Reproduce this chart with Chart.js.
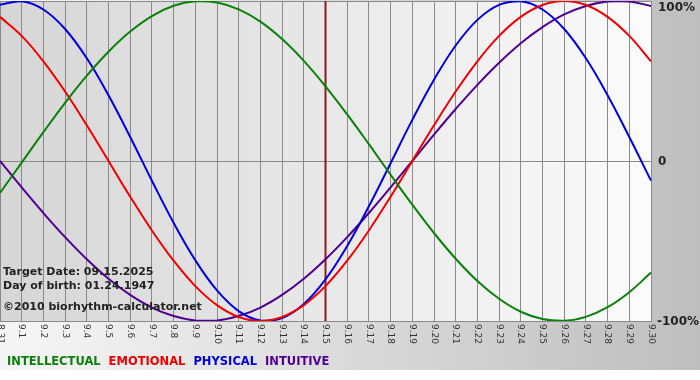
<!DOCTYPE html>
<html>
<head>
<meta charset="utf-8">
<script src="https://cdn.jsdelivr.net/npm/chart.js@4"></script>
<style>
  body { margin: 0; background: #fff; }
  #wrap { width: 700px; height: 380px; }
</style>
</head>
<body>
<div id="wrap"><canvas id="bioChart" width="700" height="380"></canvas></div>
<script>
// days shown on the x axis
var days = ['8.31','9.1','9.2','9.3','9.4','9.5','9.6','9.7','9.8','9.9','9.10',
  '9.11','9.12','9.13','9.14','9.15','9.16','9.17','9.18','9.19','9.20',
  '9.21','9.22','9.23','9.24','9.25','9.26','9.27','9.28','9.29','9.30'];

// values in percent
var intellectual = [-19.9,-1.0,18.0,36.3,53.3,68.3,80.9,90.6,97.0,99.8,99.1,94.8,87.1,76.2,62.6,46.7,
  29.1,10.5,-8.6,-27.3,-45.0,-61.1,-75.0,-86.1,-94.2,-98.8,-99.9,-97.4,-91.4,-82.0,-69.7];
var emotional = [90.1,78.2,62.3,43.4,22.3,0,-22.3,-43.4,-62.3,-78.2,-90.1,-97.5,-100,-97.5,-90.1,-78.2,
  -62.3,-43.4,-22.3,0,22.3,43.4,62.3,78.2,90.1,97.5,100,97.5,90.1,78.2,62.3];
var physical = [97.6,99.9,94.7,82.5,64.2,41.1,15.0,-12.3,-38.6,-62.0,-80.9,-93.8,-99.7,-98.2,-89.4,-74.0,
  -53.1,-28.3,-1.4,25.7,50.8,72.2,88.2,97.6,99.9,94.7,82.5,64.2,41.1,15.0,-12.3];
var intuitive = [0,-16.5,-32.5,-47.6,-61.4,-73.6,-83.7,-91.6,-96.9,-99.7,-99.7,-96.9,-91.6,-83.7,-73.6,-61.4,
  -47.6,-32.5,-16.5,0,16.5,32.5,47.6,61.4,73.6,83.7,91.6,96.9,99.7,99.7,96.9];

var yTickValues = [100, 0, -100];
var yTickLabels = ['100%', '0', '-100%'];
var targetDay = '9.15';
var infoLines = ['Target Date: 09.15.2025', 'Day of birth: 01.24.1947', '\u00A92010 biorhythm-calculator.net'];

var bgPlugin = {
  id: 'bg',
  beforeDraw: function(chart) {
    var ctx = chart.ctx, a = chart.chartArea;
    ctx.save();
    ctx.fillStyle = '#fff';
    ctx.fillRect(0, 0, chart.width, chart.height);
    var g = ctx.createLinearGradient(0, 0, chart.width, 0);
    g.addColorStop(0, '#f6f6f6');
    g.addColorStop(1, '#bebebe');
    ctx.fillStyle = g;
    ctx.fillRect(0, 0, chart.width, 370);
    var g2 = ctx.createLinearGradient(a.left, 0, a.right, 0);
    g2.addColorStop(0, '#d6d6d6');
    g2.addColorStop(1, '#fbfbfb');
    ctx.fillStyle = g2;
    ctx.fillRect(a.left, a.top, a.right - a.left, a.bottom - a.top);
    ctx.restore();
  },
  beforeDatasetsDraw: function(chart) {
    var ctx = chart.ctx, a = chart.chartArea;
    var x = chart.scales.x.getPixelForValue(days.indexOf(targetDay));
    ctx.save();
    ctx.strokeStyle = '#8b1c1c';
    ctx.lineWidth = 2;
    ctx.beginPath();
    ctx.moveTo(x, a.top);
    ctx.lineTo(x, a.bottom);
    ctx.stroke();
    ctx.restore();
  },
  afterDraw: function(chart) {
    var ctx = chart.ctx, a = chart.chartArea;
    var xs = chart.scales.x, ys = chart.scales.y;
    ctx.save();
    // x labels, rotated clockwise
    ctx.fillStyle = '#333';
    ctx.font = '9px "DejaVu Sans"';
    ctx.textAlign = 'left';
    ctx.textBaseline = 'middle';
    days.forEach(function(d, i) {
      ctx.save();
      ctx.translate(xs.getPixelForValue(i), a.bottom + 3);
      ctx.rotate(Math.PI / 2);
      ctx.fillText(d, 0, 0);
      ctx.restore();
    });
    // y labels on the right
    ctx.fillStyle = '#222';
    ctx.font = 'bold 12px "DejaVu Sans"';
    yTickValues.forEach(function(v, i) {
      var y = Math.max(ys.getPixelForValue(v) + 1, a.top + 7);
      var x = a.right + (v < 0 ? 6 : 7);
      ctx.fillText(yTickLabels[i], x, y);
    });
    // info text
    ctx.font = 'bold 11px "DejaVu Sans"';
    ctx.fillText(infoLines[0], 3, 272);
    ctx.fillText(infoLines[1], 3, 286);
    ctx.fillText(infoLines[2], 3, 307);
    // legend
    ctx.font = 'bold 11.5px "DejaVu Sans"';
    var lx = 7;
    chart.data.datasets.forEach(function(ds) {
      ctx.fillStyle = ds.borderColor;
      ctx.fillText(ds.label, lx, 362);
      lx += ctx.measureText(ds.label).width + 8;
    });
    ctx.restore();
  }
};

var ctx = document.getElementById('bioChart').getContext('2d');
var bioChart = new Chart(ctx, {
  type: 'line',
  data: {
    labels: days,
    datasets: [
      { label: 'INTELLECTUAL', data: intellectual, borderColor: '#0a800a' },
      { label: 'EMOTIONAL', data: emotional, borderColor: '#ee0000' },
      { label: 'PHYSICAL', data: physical, borderColor: '#0000dd' },
      { label: 'INTUITIVE', data: intuitive, borderColor: '#4f0090' }
    ]
  },
  options: {
    responsive: false,
    devicePixelRatio: 1,
    animation: false,
    layout: { padding: { top: 1, right: 49, bottom: 59, left: 0 } },
    elements: {
      line: { borderWidth: 2, tension: 0.4, fill: false },
      point: { radius: 0 }
    },
    plugins: {
      legend: { display: false },
      tooltip: { enabled: false }
    },
    scales: {
      x: {
        grid: { color: '#8a8a8a', drawTicks: false },
        border: { color: '#8a8a8a' },
        ticks: { display: false }
      },
      y: {
        min: -100,
        max: 100,
        grid: { color: '#8a8a8a', drawTicks: false },
        border: { display: false },
        ticks: { display: false, stepSize: 100 }
      }
    }
  },
  plugins: [bgPlugin]
});
</script>
</body>
</html>
